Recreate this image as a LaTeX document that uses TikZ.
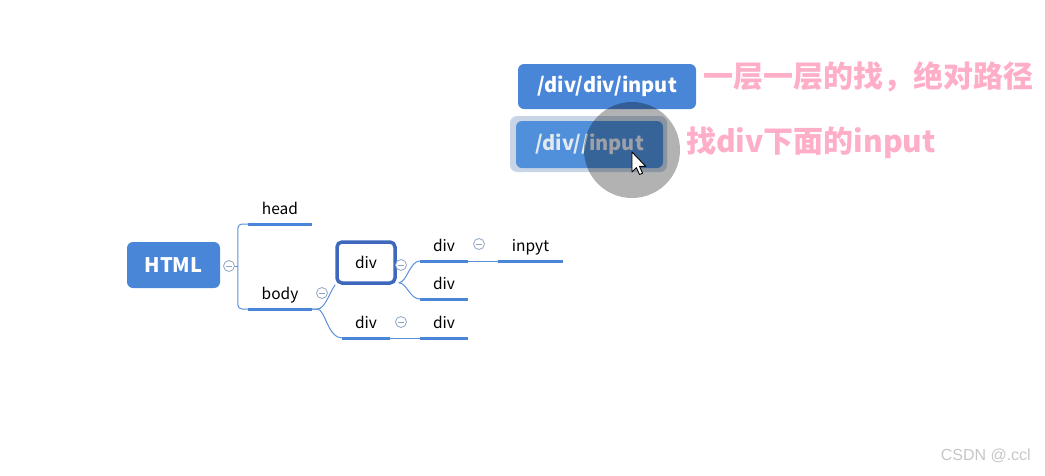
\documentclass[tikz,border=0pt]{standalone}
\usepackage{fontspec}
\setmainfont{Noto Sans CJK SC}
\newfontfamily\wmfont{Liberation Sans}
\usetikzlibrary{positioning, calc, shapes}

\definecolor{mapblue}{HTML}{4A86D8}
\definecolor{linkblue}{HTML}{5B8FD6}
\definecolor{selblue}{HTML}{3D68BE}
\definecolor{foldgray}{HTML}{8FA6C6}
\definecolor{notepink}{HTML}{FFAEC8}
\definecolor{halo}{HTML}{C8D5E7}
\definecolor{relblue}{HTML}{5090DA}
\definecolor{reltext}{HTML}{E2E8F0}

\tikzset{
	topic/.style={anchor=south, inner xsep=0pt, inner ysep=7pt, text height=11pt, text depth=2pt, font=\fontsize{15.5}{18}\selectfont},
	uline/.style={draw=mapblue, line width=3pt},
	link/.style={draw=linkblue, line width=1pt},
	fold/.style={circle, draw=foldgray, line width=0.8pt, minimum size=11pt, inner sep=0pt, fill=white,
		path picture={\draw[foldgray, line width=0.8pt] ([xshift=-2.8pt]path picture bounding box.center) -- ([xshift=2.8pt]path picture bounding box.center);}},
	pathbox/.style={rounded corners=6pt, fill=mapblue, text=white, font=\bfseries\fontsize{20}{24}\selectfont, inner sep=0pt},
	note/.style={text=notepink, font=\bfseries\fontsize{30}{36}\selectfont, anchor=west, inner sep=0pt},
}

\begin{document}
\begin{tikzpicture}[x=1pt, y=-1pt]
	\useasboundingbox (0,0) rectangle (1045,475);

	% mind map
	\node [pathbox, minimum width=93pt, minimum height=46pt] (html) at (173.5,265) {HTML};
	\node [topic, minimum width=64pt] (head) at (280,224) {head};
	\node [topic, minimum width=64pt] (body) at (280,309) {body};
	\node [draw=selblue, line width=3.5pt, rounded corners=5pt, fill=white, minimum width=58pt, minimum height=41pt, inner sep=0pt, text height=11pt, text depth=0pt, font=\fontsize{15.5}{18}\selectfont] (diva) at (366,262.5) {div};
	\node [topic, minimum width=48pt] (divone) at (444,261) {div};
	\node [topic, minimum width=48pt] (divtwo) at (444,299) {div};
	\node [topic, minimum width=65pt] (inpyt) at (530.5,261) {inpyt};
	\node [topic, minimum width=48pt] (divb) at (366,338) {div};
	\node [topic, minimum width=48pt] (divc) at (444,338) {div};

	\foreach \n in {head, body, divone, divtwo, inpyt, divb, divc}
	\draw [uline] (\n.south west) -- (\n.south east);

	\node [fold] (fhtml) at (229,266) {};
	\draw [link] (fhtml.east) -- ++(3,0);
	\draw [link, rounded corners=4pt] (head.south west) -| ($(fhtml.east)+(3,0)$) |- (body.south west);

	\draw [link] (body.south east) -- ++(5,0) .. controls +(8,0) and +(-6,8) .. (diva.south west);
	\draw [link] (body.south east) -- ++(5,0) .. controls +(8,0) and +(-14,0) .. (divb.south west);
	\draw [link] ($(diva.south east)+(2,-2)$) .. controls +(8,0) and +(-10,0) .. (divone.south west);
	\draw [link] ($(diva.south east)+(2,-2)$) .. controls +(8,0) and +(-10,0) .. (divtwo.south west);
	\draw [link] (divone.south east) -- (inpyt.south west);
	\draw [link] (divb.south east) -- (divc.south west);

	\node [fold] (fbody) at (322,293) {};
	\node [fold] (fdiva) at (401,265) {};
	\node [fold] (fdivone) at (479,244) {};
	\node [fold] (fdivb) at (401,322) {};

	% xpath boxes
	\node [pathbox, minimum width=178pt, minimum height=45pt] (abs) at (607,86.5) {/div/div/input};
	\node [rounded corners=7pt, fill=halo, minimum width=157pt, minimum height=56pt] (halo) at (588.5,144) {};
	\node [pathbox, fill=relblue, text=reltext, minimum width=147pt, minimum height=47pt] (rel) at (589.5,144.5) {/div//input};
	\fill [black, opacity=0.3] (632,150) circle (48);
	\draw [fill=white, line width=0.9pt, line join=round, shift={(632,152)}, scale=1.25] (0,0) -- (0,16) -- (3.5,12.5) -- (6,18) -- (8.5,17) -- (6,11.5) -- (11,11.5) -- cycle;

	\node [note] (nabs) at (703,77) {一层一层的找，绝对路径};
	\node [note] (nrel) at (686,143) {找div下面的input};

	\node [text=gray!45, font=\wmfont\fontsize{16}{19}\selectfont, anchor=east, inner sep=0pt] (mark) at (1031,456) {CSDN @.ccl};
\end{tikzpicture}
\end{document}
